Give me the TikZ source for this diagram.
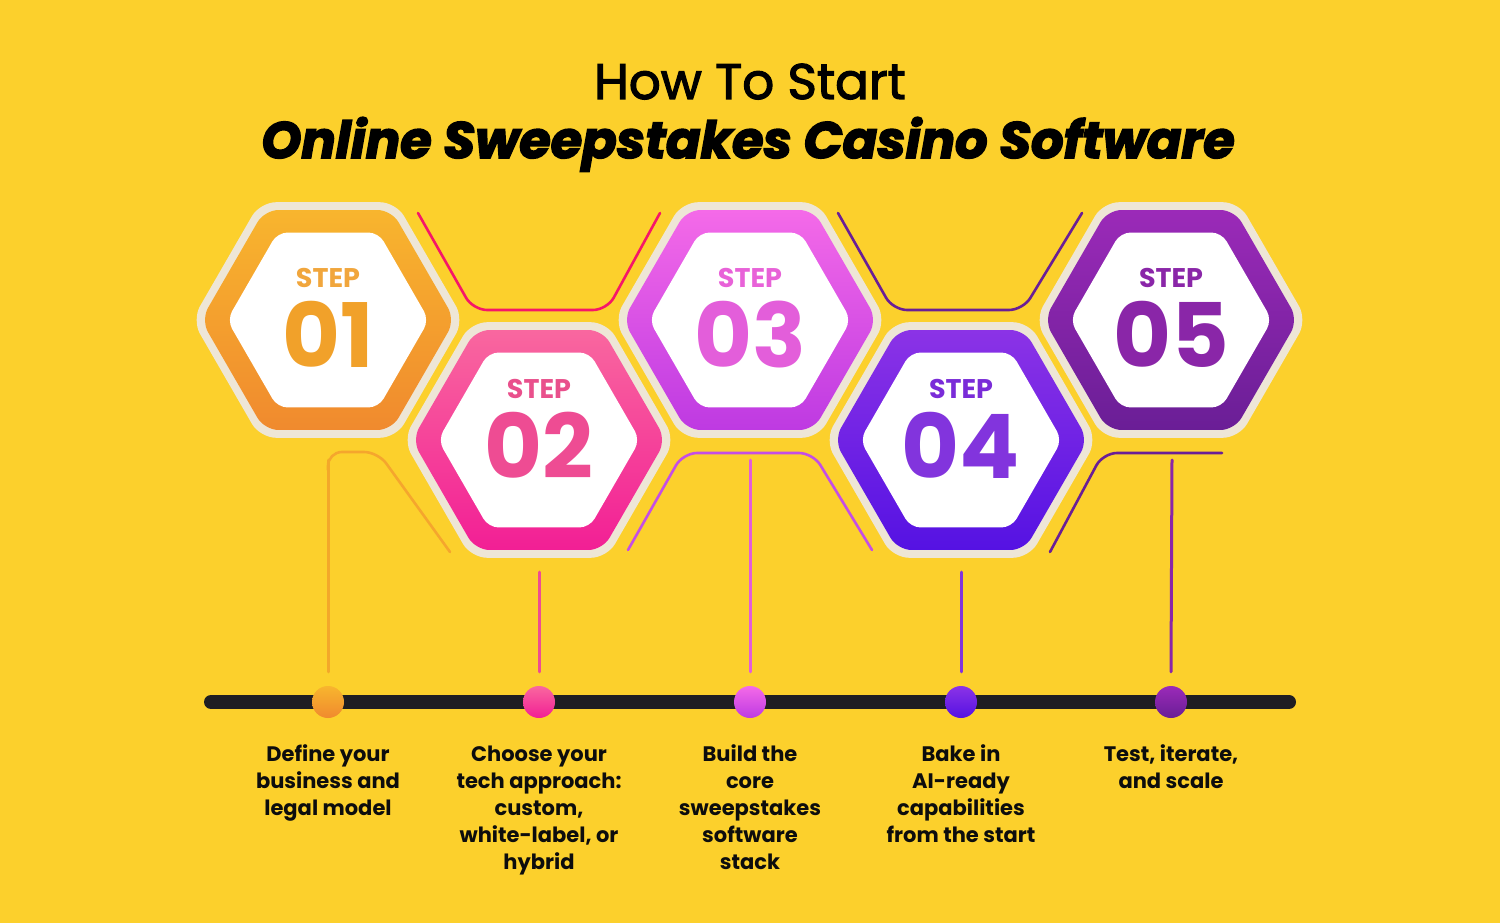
\documentclass[tikz,border=0pt]{standalone}
\usepackage{fontspec}
\setmainfont{Poppins}
\usetikzlibrary{calc}
\definecolor{bg}{HTML}{FCD02C}
\definecolor{tl}{HTML}{1F1E22}
\definecolor{rimc}{HTML}{EDE8E5}
% step colours: ring top, ring bottom, step text, number
\definecolor{aT}{HTML}{F8B52E}\definecolor{aB}{HTML}{F08A2E}\definecolor{aS}{HTML}{F1A63C}\definecolor{aN}{HTML}{F1A12A}
\definecolor{bT}{HTML}{F9679F}\definecolor{bB}{HTML}{F21F95}\definecolor{bS}{HTML}{E9508C}\definecolor{bN}{HTML}{EE4C93}
\definecolor{cT}{HTML}{F46AE8}\definecolor{cB}{HTML}{BE3AE2}\definecolor{cS}{HTML}{E862D8}\definecolor{cN}{HTML}{E35EDA}
\definecolor{dT}{HTML}{8B33E6}\definecolor{dB}{HTML}{5512E3}\definecolor{dS}{HTML}{7A2CD8}\definecolor{dN}{HTML}{8234DD}
\definecolor{eT}{HTML}{9B2AB8}\definecolor{eB}{HTML}{6A1E96}\definecolor{eS}{HTML}{8A26A8}\definecolor{eN}{HTML}{8A26A8}
\def\hexp#1{+(0:#1) -- +(60:#1) -- +(120:#1) -- +(180:#1) -- +(240:#1) -- +(300:#1) -- cycle}
\newcommand\heavy[2]{\special{pdf:literal direct 2 Tr #1 w}#2\special{pdf:literal direct 0 Tr}}
\tikzset{
  steplbl/.style={anchor=base, inner sep=0, font=\fontsize{27}{27}\selectfont\bfseries},
  numlbl/.style={anchor=base, inner sep=0, font=\fontsize{89}{89}\selectfont\bfseries},
  desc/.style={anchor=north, inner sep=0, align=center, text=black!95, font=\fontsize{21}{27}\selectfont\bfseries},
  dotn/.style={circle, inner sep=0, minimum size=32},
  conn/.style={line width=2.6, rounded corners=14, line cap=round},
  vline/.style={line width=3, line cap=round},
}
\newcommand\fl{\rule{0pt}{17pt}}
\begin{document}
\begin{tikzpicture}[x=1pt,y=-1pt]
\fill[bg] (0,0) rectangle (1500,923);
\useasboundingbox (0,0) rectangle (1500,923);

% title
\node[anchor=base, inner sep=0, font=\fontsize{50}{60}\selectfont] (title1) at (750,99) {\heavy{1.2}{How To Start}};
\node[anchor=base, inner sep=0, font=\fontsize{51}{60}\selectfont\bfseries\itshape] (title2) at (748,158) {\heavy{1.6}{Online Sweepstakes Casino Software}};

% connectors between hexagons
\coordinate (ua1) at (418,213); \coordinate (ua2) at (473,310); \coordinate (ua3) at (607,310); \coordinate (ua4) at (660,213);
\draw[conn, color=bB!70!red] (ua1) -- (ua2) -- (ua3) -- (ua4);
\coordinate (ub1) at (838,213); \coordinate (ub2) at (893,310); \coordinate (ub3) at (1023,310); \coordinate (ub4) at (1082,213);
\draw[conn, color=eB] (ub1) -- (ub2) -- (ub3) -- (ub4);
\coordinate (la1) at (328,470); \coordinate (la2) at (328,452); \coordinate (la3) at (378,452); \coordinate (la4) at (450,552);
\draw[conn, color=aB!60!bg] (la1) -- (la2) -- (la3) -- (la4);
\coordinate (lb1) at (628,550); \coordinate (lb2) at (683,453); \coordinate (lb3) at (813,453); \coordinate (lb4) at (872,550);
\draw[conn, color=cB!90!white] (lb1) -- (lb2) -- (lb3) -- (lb4);
\coordinate (lc1) at (1050,552); \coordinate (lc2) at (1103,453); \coordinate (lc3) at (1222,453);
\draw[conn, color=eB] (lc1) -- (lc2) -- (lc3);

% hexagons
\foreach \i/\cx/\cy/\cl in {1/328/320/a, 2/539/440/b, 3/750/320/c, 4/961/440/d, 5/1171/320/e}{
  \coordinate (h\i) at (\cx,\cy);
  \fill[rimc, opacity=0.92, rounded corners=16] (h\i) \hexp{136};
  \shade[top color=\cl T, bottom color=\cl B, rounded corners=14] (h\i) \hexp{127};
  \fill[white, rounded corners=10] (h\i) \hexp{101};
}

% step labels
\node[steplbl, text=aS] (st1) at (328,287) {STEP};
\node[numlbl, text=aN] (n1) at (328,367) {01};
\node[steplbl, text=bS] (st2) at (539,398) {STEP};
\node[numlbl, text=bN] (n2) at (539,478) {02};
\node[steplbl, text=cS] (st3) at (750,287) {STEP};
\node[numlbl, text=cN] (n3) at (750,367) {03};
\node[steplbl, text=dS] (st4) at (961,398) {STEP};
\node[numlbl, text=dN] (n4) at (961,478) {04};
\node[steplbl, text=eS] (st5) at (1171,287) {STEP};
\node[numlbl, text=eN] (n5) at (1171,367) {05};

% timeline
\coordinate (tl0) at (211,702); \coordinate (tl1) at (1289,702);
\draw[tl, line width=14, line cap=round] (tl0) -- (tl1);

\node[dotn, top color=aT, bottom color=aB] (dot1) at (328,702) {};
\node[dotn, top color=bT, bottom color=bB] (dot2) at (539,702) {};
\node[dotn, top color=cT, bottom color=cB] (dot3) at (750,702) {};
\node[dotn, top color=dT, bottom color=dB] (dot4) at (961,702) {};
\node[dotn, top color=eT, bottom color=eB] (dot5) at (1171,702) {};

% vertical drop lines
\coordinate (v1) at (328,460); \coordinate (v2) at (539,572); \coordinate (v3) at (750,460); \coordinate (v4) at (961,572); \coordinate (v5) at (1172,460);
\draw[vline, color=aN!85!bg] (v1) -- ($(dot1.north)+(0,-14)$);
\draw[vline, color=bN] (v2) -- ($(dot2.north)+(0,-14)$);
\draw[vline, color=cN] (v3) -- ($(dot3.north)+(0,-14)$);
\draw[vline, color=dN] (v4) -- ($(dot4.north)+(0,-14)$);
\draw[vline, color=eN] (v5) -- ($(dot5.north)+(0,-14)$);

% descriptions
\node[desc] (d1) at (328,744) {\fl Define your\\business and\\legal model};
\node[desc] (d2) at (539,744) {\fl Choose your\\tech approach:\\custom,\\white-label, or\\hybrid};
\node[desc] (d3) at (750,744) {\fl Build the\\core\\sweepstakes\\software\\stack};
\node[desc] (d4) at (961,744) {\fl Bake in\\AI-ready\\capabilities\\from the start};
\node[desc] (d5) at (1171,744) {\fl Test, iterate,\\and scale};
\end{tikzpicture}
\end{document}
